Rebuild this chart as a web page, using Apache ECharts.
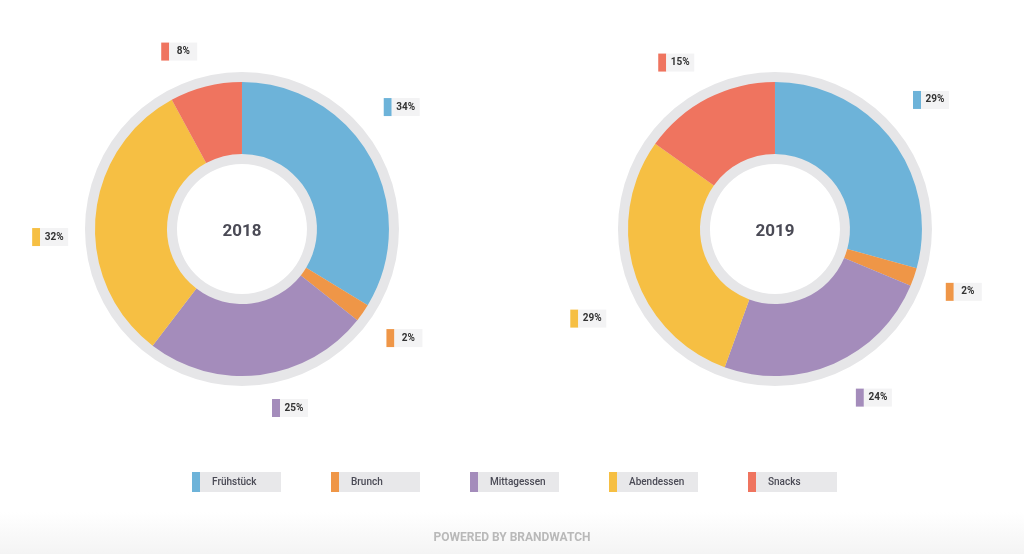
<!DOCTYPE html>
<html><head><meta charset="utf-8">
<style>html,body{margin:0;padding:0;background:#fff}#c{width:1024px;height:554px}</style>
<script src="https://cdn.jsdelivr.net/npm/echarts@6/dist/echarts.min.js"></script>
</head><body><div id="c"></div>
<script>
const categories = ['Frühstück', 'Brunch', 'Mittagessen', 'Abendessen', 'Snacks'];
const years = ['2018', '2019'];
const values2018 = [34, 2, 25, 32, 8];
const values2019 = [29, 2, 24, 29, 15];
const colors = ['#6db3d9', '#ef9647', '#a48cbb', '#f6bf43', '#ef745f'];
const footerText = 'POWERED BY BRANDWATCH';

const chart = echarts.init(document.getElementById('c'));
const font = 'Roboto, "Noto Sans", sans-serif';
const centerFrac = [[0.2363, 0.4134], [0.7568, 0.4134]];
const allValues = [values2018, values2019];
// label placement nudges [angle deg, radius px] relative to slice mid-angle, as in the source layout
const labelNudge = [
  [[-11.3, 4], [2.3, -2], [-2.4, -1.5], [-7.1, -9], [0.1, 0]],
  [[-5.8, 6], [1.1, -1], [-2, 4], [-10.7, 8], [1.4, 2]]
];
const labelRadius = 183;

const labelRich = { t: { backgroundColor: '#f3f3f4', color: '#333', fontWeight: 'bold', fontSize: 10, fontFamily: font, height: 18, lineHeight: 18, width: 28, align: 'center' } };
colors.forEach((c, i) => { labelRich['m' + i] = { backgroundColor: c, width: 8, height: 18 }; });

function makeLabelLayout(k) {
  const vals = allValues[k];
  const sum = vals.reduce((a, b) => a + b, 0);
  return function (p) {
    const i = p.dataIndex;
    let before = 0;
    for (let j = 0; j < i; j++) before += vals[j];
    const mid = ((before + vals[i] / 2) / sum) * 360 + labelNudge[k][i][0];
    const r = labelRadius + labelNudge[k][i][1];
    const a = mid * Math.PI / 180;
    const cx = chart.getWidth() * centerFrac[k][0];
    const cy = chart.getHeight() * centerFrac[k][1];
    const s = Math.sin(a);
    return {
      x: cx + r * s,
      y: cy - r * Math.cos(a),
      align: s >= 0 ? 'left' : 'right',
      verticalAlign: 'middle'
    };
  };
}

const series = [];
years.forEach((y, k) => {
  const center = [(centerFrac[k][0] * 100) + '%', (centerFrac[k][1] * 100) + '%'];
  series.push({
    type: 'pie', center, radius: [65, 157], silent: true, z: 1,
    startAngle: 90, emphasis: { disabled: true },
    itemStyle: { color: '#e6e6e8' },
    label: { show: true, position: 'center', formatter: '{y|' + y + '}',
      rich: { y: { fontFamily: font, fontSize: 17, fontWeight: 'bold', color: '#4a4a55', padding: [5, 0, 0, 0] } } },
    labelLine: { show: false },
    data: [{ value: 1, name: 'ring' + y }]
  });
  series.push({
    type: 'pie', center, radius: [75, 147], z: 2,
    startAngle: 90, avoidLabelOverlap: false, emphasis: { scale: false },
    label: {
      show: true, position: 'outside', distanceToLabelLine: 4,
      formatter: p => '{m' + p.dataIndex + '|}{t|' + p.value + '%}',
      rich: labelRich
    },
    labelLine: { show: false, length: 26, length2: 0 },
    labelLayout: makeLabelLayout(k),
    data: categories.map((n, i) => ({ name: n, value: allValues[k][i], itemStyle: { color: colors[i] } }))
  });
});

const legendRich = { t: { backgroundColor: '#e8e8ea', color: '#4a4a55', fontSize: 10, fontWeight: 500, fontFamily: font, width: 69, height: 20, lineHeight: 20, padding: [0, 0, 0, 12] } };
colors.forEach((c, i) => { legendRich['m' + i] = { backgroundColor: c, width: 8, height: 20 }; });

chart.setOption({
  animation: false,
  legend: {
    data: categories, bottom: 57, left: 'center', itemWidth: 0, itemHeight: 0, itemGap: 45,
    icon: 'rect', selectedMode: false,
    formatter: n => '{m' + categories.indexOf(n) + '|}{t|' + n + '}',
    textStyle: { rich: legendRich }
  },
  graphic: [
    { type: 'rect', left: 0, top: 512, shape: { width: 1024, height: 42 }, silent: true, z: -10,
      style: { fill: new echarts.graphic.LinearGradient(0, 0, 0, 1, [{ offset: 0, color: '#ffffff' }, { offset: 1, color: '#f4f4f4' }]) } },
    { type: 'text', left: 'center', top: 532, silent: true,
      style: { text: footerText, fill: '#b9b9b9', font: 'bold 12px Roboto, sans-serif' } }
  ],
  series
});
</script></body></html>
